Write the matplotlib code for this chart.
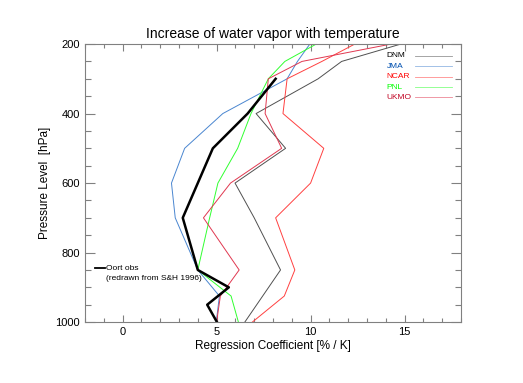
import matplotlib
matplotlib.use("Agg")
import matplotlib.pyplot as plt
from matplotlib.ticker import MultipleLocator

plt.rcParams['font.family'] = ['Liberation Sans', 'DejaVu Sans']

# model profiles (pressure levels in hPa)
lev = [200, 250, 300, 400, 500, 600, 700, 850, 925, 1000]
dnm = [14.8, 11.65, 10.4, 7.1, 8.67, 5.98, 7.0, 8.4, 7.45, 6.5]
jma = [9.96, 9.3, 8.75, 5.33, 3.3, 2.6, 2.8, 4.0, 5.15, 4.98]
ncar = [12.35, 10.6, 8.75, 8.53, 10.7, 10.0, 8.14, 9.16, 8.6, 6.9]
pnl = [10.3, 8.63, 7.75, 6.83, 6.12, 5.07, 4.63, 4.0, 5.77, 6.16]
ukmo = [14.28, 9.54, 7.75, 7.58, 8.46, 5.74, 4.3, 6.2, 5.2, 5.0]

# Oort observations
oort_lev = [300, 400, 500, 700, 850, 900, 950, 1000]
oort = [8.14, 6.65, 4.8, 3.2, 4.0, 5.65, 4.5, 5.02]

models = ['DNM', 'JMA', 'NCAR', 'PNL', 'UKMO']
series = [dnm, jma, ncar, pnl, ukmo]
line_colors = ['#505050', '#4a86d0', '#ff4040', '#30ff30', '#e03850']
text_colors = ['#000000', '#0050b0', '#ff0000', '#00ff00', '#c00020']

fig = plt.figure(figsize=(5.23, 3.83), dpi=100)
ax = fig.add_axes([0.1625, 0.159, 0.719, 0.726])

for vals, c in zip(series, line_colors):
    ax.plot(vals, lev, color=c, linewidth=0.7)
ax.plot(oort, oort_lev, color='black', linewidth=1.8)

ax.set_xlim(-2, 18)
ax.set_ylim(1000, 200)
ax.xaxis.set_major_locator(MultipleLocator(5))
ax.xaxis.set_minor_locator(MultipleLocator(1))
ax.yaxis.set_major_locator(MultipleLocator(200))
ax.yaxis.set_minor_locator(MultipleLocator(50))

for s in ax.spines.values():
    s.set_color('#808080')
    s.set_linewidth(0.8)
ax.tick_params(which='both', direction='in', top=True, right=True,
               color='#808080', width=0.8, labelsize=8)
ax.tick_params(axis='x', which='major', length=5)
ax.tick_params(axis='x', which='minor', length=3)
ax.tick_params(axis='y', which='major', length=7)
ax.tick_params(axis='y', which='minor', length=4)

ax.set_title('Increase of water vapor with temperature', fontsize=10, pad=4)
ax.set_xlabel('Regression Coefficient [% / K]', fontsize=8.5, labelpad=2)
ax.set_ylabel('Pressure Level  [hPa]', fontsize=8.5, labelpad=3)

# model key, upper right
for i, (name, lc, tc) in enumerate(zip(models, line_colors, text_colors)):
    y = 0.958 - i * 0.0375
    ax.text(0.802, y, name, transform=ax.transAxes, color=tc, fontsize=6,
            va='center', ha='left')
    ax.plot([0.878, 0.976], [y, y], transform=ax.transAxes, color=lc,
            linewidth=0.6, alpha=0.6)

# Oort key, lower left
ax.plot([0.027, 0.053], [0.194, 0.194], transform=ax.transAxes, color='black',
        linewidth=1.3)
ax.text(0.056, 0.194, 'Oort obs', transform=ax.transAxes, fontsize=6,
        va='center', ha='left')
ax.text(0.056, 0.158, '(redrawn from S&H 1996)', transform=ax.transAxes,
        fontsize=6, va='center', ha='left')

fig.savefig('out.png', dpi=100)
